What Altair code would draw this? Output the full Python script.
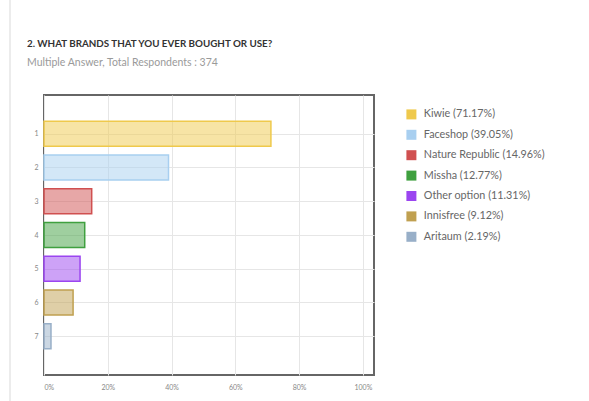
import altair as alt
import pandas as pd

ranks = [1, 2, 3, 4, 5, 6, 7]
brands = ["Kiwie", "Faceshop", "Nature Republic", "Missha", "Other option", "Innisfree", "Aritaum"]
values = [71.17, 39.05, 14.96, 12.77, 11.31, 9.12, 2.19]
colors = ["#efc94c", "#a8cff0", "#d05050", "#3fa03f", "#9b45f0", "#c0a050", "#98afc8"]
x_ticks = [0, 20, 40, 60, 80, 100]
title_text = ["2. WHAT BRANDS THAT YOU EVER BOUGHT OR USE?"]
subtitle_text = ["Multiple Answer, Total Respondents : 374"]

labels = [f"{b} ({v:.2f}%)" for b, v in zip(brands, values)]
df = pd.DataFrame({"rank": ranks, "value": values, "label": labels})

FONT = "Lato"

bars = alt.Chart(df).mark_bar(
    orient="horizontal", size=25, fillOpacity=0.5, strokeWidth=1.5
).encode(
    x=alt.X("value:Q", scale=alt.Scale(domain=[0, 103.5], nice=False, zero=True),
            axis=alt.Axis(values=x_ticks, labelExpr="datum.value + '%'", title=None,
                          labelFontSize=7, labelColor="#888", labelPadding=8,
                          domain=False, ticks=False, gridColor="#e6e6e6")),
    y=alt.Y("rank:Q", scale=alt.Scale(domain=[0, 8], reverse=True, nice=False, zero=False),
            axis=alt.Axis(values=ranks, title=None, labelFontSize=7, labelColor="#888",
                          labelPadding=6, domain=False, ticks=False, gridColor="#e6e6e6")),
    fill=alt.Fill("label:N", scale=alt.Scale(domain=labels, range=colors),
                  sort=labels,
                  legend=alt.Legend(title=None, orient="none", legendX=362, legendY=14,
                                    symbolType="square", symbolSize=100, symbolOpacity=1,
                                    symbolStrokeWidth=0, labelFontSize=10.8, labelOffset=7,
                                    labelColor="#666", labelFont=FONT, rowPadding=8.4,
                                    labelLimit=220)),
    stroke=alt.Stroke("label:N", scale=alt.Scale(domain=labels, range=colors), legend=None),
)

border = alt.Chart(df).mark_rule(color="#ececec", strokeWidth=2).encode(
    x=alt.value(-34), y=alt.value(-95), y2=alt.value(306)
)

title = alt.Chart(pd.DataFrame({"t": title_text})).mark_text(
    align="left", baseline="middle", font=FONT, fontSize=9.8, fontWeight="bold", color="#333"
).encode(text="t:N", x=alt.value(-17), y=alt.value(-51))

subtitle = alt.Chart(pd.DataFrame({"t": subtitle_text})).mark_text(
    align="left", baseline="middle", font=FONT, fontSize=10.5, color="#9a9a9a"
).encode(text="t:N", x=alt.value(-17), y=alt.value(-32))

chart = alt.layer(border, bars, title, subtitle).properties(
    width=330, height=280,
    autosize=alt.AutoSizeParams(type="none"),
    padding={"left": 44, "top": 95, "right": 215, "bottom": 26},
    background="white",
).configure_view(stroke="#666", strokeWidth=2).configure_axis(labelFont=FONT)

chart.save("out.html", embed_options={"renderer": "svg", "actions": False})
